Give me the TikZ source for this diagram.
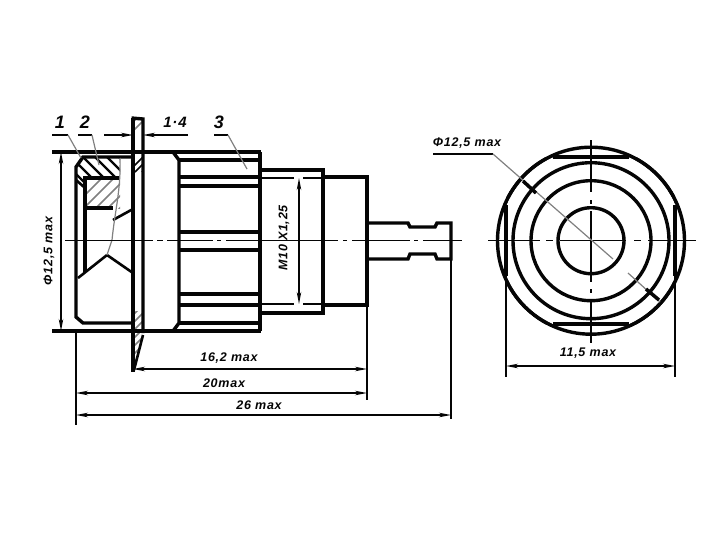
\documentclass[tikz,border=0pt]{standalone}
\usepackage{fontspec}
\setmainfont{Liberation Sans}[LetterSpace=6]
\usetikzlibrary{arrows.meta}
\definecolor{ink}{gray}{0.02}
\definecolor{leader}{gray}{0.5}
\tikzset{
 main/.style={draw=ink,line width=3.4pt,line join=miter,line cap=butt},
 med/.style={draw=ink,line width=2.6pt},
 thin/.style={draw=ink,line width=1.6pt},
 gline/.style={draw=leader,line width=1.2pt},
 hatch/.style={draw=ink!75,line width=1.5pt},
 dim/.style={draw=ink,line width=1.6pt,{Stealth[length=12pt,width=4.5pt]}-{Stealth[length=12pt,width=4.5pt]}},
 dimto/.style={draw=ink,line width=1.6pt,-{Stealth[length=12pt,width=4.5pt]}},
 lab/.style={font=\bfseries\itshape\fontsize{12.5}{13}\selectfont,text=ink,inner sep=0pt},
 num/.style={font=\bfseries\itshape\fontsize{18}{18}\selectfont,text=ink,inner sep=0pt}
}
\begin{document}
\begin{tikzpicture}[x=1pt,y=-1pt]
\useasboundingbox (0,0) rectangle (726,544);
\fill[white] (0,0) rectangle (726,544);
% ---- hatching
\begin{scope}
\clip (83,157) -- (76,167) -- (76,180) -- (84,187) -- (88,178) -- (120,178) -- (120,158) -- cycle;
\foreach \d in {-20,-8,4,16,28,40,52,64}{\draw[main,line width=2.4pt] (60+\d,150) -- (100+\d,190);}
\end{scope}
\begin{scope}
\clip (86,179) rectangle (120,208);
\foreach \d in {0,12,24,36,48,60}{\draw[hatch,draw=leader] (60+\d,220) -- (110+\d,170);}
\end{scope}
\begin{scope}
\clip (134,119) rectangle (142,150);
\foreach \d in {0,9,18,27,36,45}{\draw[hatch,draw=leader] (125+\d,130) -- (145+\d,110);}
\end{scope}
\begin{scope}
\clip (134,157) rectangle (142,172);
\foreach \d in {0,7,14}{\draw[hatch,draw=ink] (128+\d,172) -- (148+\d,152);}
\end{scope}
\begin{scope}
\clip (134,311) -- (142,311) -- (142,335) -- (134,370) -- cycle;
\foreach \d in {0,8,16,24,32,40,48,56,64}{\draw[hatch,draw=leader] (128,320+\d) -- (148,300+\d);}
\end{scope}
% ---- left view: nut
\draw[main] (133,157) -- (83,157) -- (76,167) -- (76,317) -- (83,323) -- (133,323);
\draw[main] (85,272) -- (85,178) -- (120,178);
\draw[med] (76,180) -- (84,187);
\draw[main] (85,208) -- (113,208);
\draw[med] (113,220) -- (133,209);
\draw[med] (107,255) -- (133,273);
\draw[med] (107,255) -- (78,278);
\draw[gline] (120,158) .. controls (121,190) and (115,210) .. (112,240) -- (107,255);
% ---- flange
\draw[main] (133,118) -- (133,372);
\draw[main] (131.5,118) -- (143,119) -- (143,333);
\draw[med] (143,335) -- (134,370);
% ---- body
\draw[main] (52,152) -- (261,152);
\draw[main] (52,331) -- (261,331);
\draw[main] (260,152) -- (260,331);
\draw[main] (173,152) -- (179,160) -- (179,323) -- (173,331);
\foreach \y in {160,177,186,232,250,294,305,323}{\draw[main] (179,\y) -- (260,\y);}
% ---- thread, shank, pin
\draw[main] (260,170) -- (323,170) -- (323,313) -- (260,313);
\draw[thin] (260,178) -- (294,178) (303,178) -- (323,178);
\draw[thin] (260,304) -- (294,304) (303,304) -- (323,304);
\draw[main] (323,177) -- (367,177) -- (367,305) -- (323,305);
\draw[main] (367,223) -- (408,223) -- (410,227) -- (435,227) -- (437,223) -- (451,223) -- (451,259) -- (437,259) -- (435,254) -- (410,254) -- (408,259) -- (367,259);
% ---- centre line, left
\foreach \a/\b in {65/153,157/163,167/213,217/221,226/338,343/347,352/410,414/418,423/462}{\draw[thin] (\a,240.5) -- (\b,240.5);}
% ---- dimensions, left
\coordinate (dA1) at (61,152); \coordinate (dA2) at (61,331);
\draw[dim] (dA1) -- (dA2);
\node[lab,rotate=90] (tA) at (49,251) {Φ12,5 max};
\coordinate (dM1) at (299,178); \coordinate (dM2) at (299,304);
\draw[dim] (dM1) -- (dM2);
\node[lab,rotate=90] (tM) at (284,238) {M10 X1,25};
\draw[thin] (76,331) -- (76,425);
\draw[thin] (367,305) -- (367,400);
\draw[thin] (451,259) -- (451,419);
\coordinate (a1) at (133,369); \coordinate (a2) at (367,369);
\coordinate (b1) at (76,393); \coordinate (b2) at (367,393);
\coordinate (c1) at (76,415); \coordinate (c2) at (451,415);
\draw[dim] (a1) -- (a2);
\draw[dim] (b1) -- (b2);
\draw[dim] (c1) -- (c2);
\node[lab] (t162) at (229,358) {16,2 max};
\node[lab] (t20) at (224,383) {20max};
\node[lab] (t26) at (259,405) {26 max};
% ---- thickness dimension and labels
\coordinate (f1) at (104,135); \coordinate (f2) at (133,135);
\coordinate (f3) at (188,135); \coordinate (f4) at (143,135);
\draw[dimto] (f1) -- (f2);
\draw[dimto] (f3) -- (f4);
\node[lab,font=\bfseries\itshape\fontsize{15}{15}\selectfont] (t14) at (175,122) {1·4};
\node[num] (n1) at (60,122) {1};
\node[num] (n2) at (85,122) {2};
\node[num] (n3) at (219,122) {3};
\draw[thin] (52,135) -- (68,135); \draw[gline] (68,135) -- (81,158);
\draw[thin] (78,135) -- (92,135); \draw[gline] (92,135) -- (99,165);
\draw[thin] (214,135) -- (228,135); \draw[gline] (228,135) -- (247,169);
% ---- right view
\coordinate (O) at (591,240.7);
\begin{scope}
\clip (506,157) rectangle (675,324);
\draw[main] (O) circle[radius=93.5];
\end{scope}
\draw[main] (O) circle[radius=78];
\draw[main] (O) circle[radius=60];
\draw[main] (O) circle[radius=33];
\draw[main] (553,157) -- (629,157);
\draw[main] (553,324) -- (629,324);
\draw[main] (506,205) -- (506,276);
\draw[main] (675,205) -- (675,276);
\draw[main] (O) circle[radius=93.5];
\foreach \a/\b in {488/540,546/553,560/626,634/641,648/696}{\draw[thin] (\a,240.5) -- (\b,240.5);}
\foreach \a/\b in {140/192,200/204,211/282,289/293,300/343}{\draw[thin] (591,\a) -- (591,\b);}
\draw[thin] (506,276) -- (506,377);
\draw[thin] (675,276) -- (675,377);
\coordinate (e1) at (506,366); \coordinate (e2) at (675,366);
\draw[dim] (e1) -- (e2);
\node[lab] (t115) at (588,353) {11,5 max};
\node[lab] (tD) at (467,143) {Φ12,5 max};
\draw[thin] (433,154) -- (493,154);
\coordinate (g0) at (493,154); \coordinate (g1) at (613,259); \coordinate (g2) at (628,273); \coordinate (g3) at (660,302);
\draw[gline] (g0) -- (g1);
\draw[gline] (g2) -- (g3);
\draw[draw=ink,line width=3.5pt] (523,181) -- (536,193);
\draw[draw=ink,line width=3.5pt] (646,289) -- (659,300);
\end{tikzpicture}
\end{document}
